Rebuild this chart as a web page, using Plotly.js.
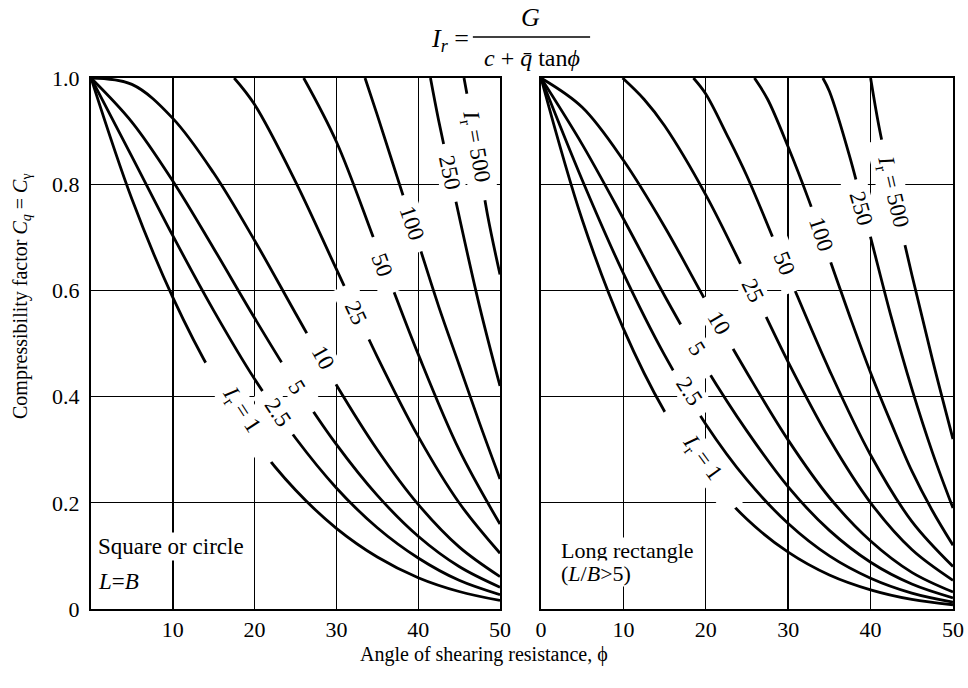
<!DOCTYPE html>
<html>
<head>
<meta charset="utf-8">
<script src="https://cdn.plot.ly/plotly-3.0.1.min.js"></script>
<style>html,body{margin:0;padding:0;background:#fff;}#chart{width:968px;height:688px;}</style>
</head>
<body>
<div id="chart"></div>
<script>
// ---- data ----
const irNames = ['1', '2.5', '5', '10', '25', '50', '100', '250', '500'];
const phiFull = [0, 5, 10, 15, 20, 25, 30, 35, 40, 45, 50];

// Square or circle (L = B)
const sq1 = [1, .772, .587, .437, .317, .224, .152, .098, .059, .033, .016];
const sq2_5 = [1, .852, .703, .562, .433, .322, .228, .153, .096, .054, .027];
const sq5 = [1, .917, .806, .679, .548, .423, .310, .214, .137, .080, .041];
const sq10 = [1, .988, .924, .821, .694, .557, .422, .300, .197, .117, .061];
const sq25Phi = [17.5, 20, 25, 30, 35, 40, 45, 50];
const sq25 = [1, .95, .805, .64, .475, .325, .20, .105];
const sq50Phi = [26, 30, 35, 40, 45, 50];
const sq50 = [1, .88, .68, .48, .30, .16];
const sq100Phi = [33.5, 35, 37.5, 40, 42.5, 45, 47.5, 50];
const sq100 = [1, .93, .81, .69, .57, .46, .35, .245];
const sq250Phi = [41.5, 42.5, 45, 47.5, 50];
const sq250 = [1, .92, .74, .57, .42];
const sq500Phi = [45.6, 47, 48.5, 50];
const sq500 = [1, .88, .74, .63];

// Long rectangle (L/B > 5)
const st1 = [1, .733, .528, .372, .255, .169, .107, .064, .036, .018, .008];
const st2_5 = [1, .808, .632, .478, .348, .243, .161, .100, .058, .030, .013];
const st5 = [1, .875, .735, .59, .455, .335, .23, .148, .088, .047, .021];
const st10 = [1, .945, .845, .72, .58, .445, .318, .21, .128, .069, .032];
const st25Phi = [9.9, 12.5, 15, 20, 25, 30, 35, 40, 45, 50];
const st25 = [1, .96, .91, .78, .625, .465, .32, .20, .112, .054];
const st50Phi = [18.5, 20, 22.5, 25, 30, 35, 40, 45, 50];
const st50 = [1, .97, .895, .815, .63, .45, .29, .165, .08];
const st100Phi = [25.9, 27.5, 30, 32.5, 35, 37.5, 40, 42.5, 45, 47.5, 50];
const st100 = [1, .96, .87, .77, .66, .55, .445, .35, .26, .185, .12];
const st250Phi = [34.2, 35, 37.5, 40, 42.5, 45, 47.5, 50];
const st250 = [1, .975, .85, .70, .55, .415, .295, .19];
const st500Phi = [40, 41, 42.5, 45, 47.5, 50];
const st500 = [1, .91, .80, .63, .47, .32];

// curve label positions (phi, C) and rotation
const sqLabelPhi = [18.3, 22.85, 25.2, 28.35, 32.35, 35.6, 39.25, 43.85, 47.0];
const sqLabelC = [.374, .370, .417, .473, .558, .647, .726, .822, .870];
const sqLabelAng = [57, 56, 58, 61, 65, 70, 71, 78, 80];
const stLabelPhi = [19.6, 18.0, 18.9, 21.65, 25.7, 29.5, 34.0, 38.9, 42.6];
const stLabelC = [.283, .409, .490, .538, .600, .650, .705, .755, .785];
const stLabelAng = [54, 57, 58, 60, 64, 68, 72, 74, 77];

const xTicksLeft = [10, 20, 30, 40, 50];
const xTicksRight = [0, 10, 20, 30, 40, 50];
const yTicks = [0, 0.2, 0.4, 0.6, 0.8, 1.0];
const yTickText = ['0', '0.2', '0.4', '0.6', '0.8', '1.0'];

// ---- build ----
const FONT = "'Liberation Serif', 'Times New Roman', serif";
const sqX = [phiFull, phiFull, phiFull, phiFull, sq25Phi, sq50Phi, sq100Phi, sq250Phi, sq500Phi];
const sqY = [sq1, sq2_5, sq5, sq10, sq25, sq50, sq100, sq250, sq500];
const stX = [phiFull, phiFull, phiFull, phiFull, st25Phi, st50Phi, st100Phi, st250Phi, st500Phi];
const stY = [st1, st2_5, st5, st10, st25, st50, st100, st250, st500];

const traces = [];
function addCurves(xs, ys, xa, ya) {
  for (let i = 0; i < xs.length; i++) {
    traces.push({
      x: xs[i], y: ys[i], xaxis: xa, yaxis: ya, type: 'scatter', mode: 'lines',
      line: {color: '#000', width: 2.8, shape: 'spline', smoothing: 1},
      hoverinfo: 'skip', showlegend: false, name: 'Ir=' + irNames[i]
    });
  }
}
addCurves(sqX, sqY, 'x', 'y');
addCurves(stX, stY, 'x2', 'y2');

const NB = '\u00a0';
function pad(n) { return NB.repeat(n); }
function labelText(i) {
  const name = irNames[i];
  if (i === 0 || i === 8) {
    const p = i === 0 ? 6 : 3;
    return pad(p) + '<i>I</i><sub>r</sub> = ' + name + pad(p);
  }
  const p = name.length === 1 ? 4 : (name.length === 2 ? 3 : 2);
  return pad(p) + name + pad(p);
}

const annotations = [];
function addLabels(phis, cs, angs, xr, yr) {
  for (let i = 0; i < phis.length; i++) {
    annotations.push({
      x: phis[i], y: cs[i], xref: xr, yref: yr, text: labelText(i),
      xanchor: 'center', yanchor: 'middle',
      textangle: angs[i], showarrow: false, bgcolor: '#fff', borderpad: 0,
      font: {family: FONT, size: 23, color: '#000'}
    });
  }
}
addLabels(sqLabelPhi, sqLabelC, sqLabelAng, 'x', 'y');
addLabels(stLabelPhi, stLabelC, stLabelAng, 'x2', 'y2');

function note(opts) {
  return Object.assign({showarrow: false, xanchor: 'center', yanchor: 'middle'}, opts);
}
// panel captions
annotations.push(note({x: 0.6, y: 0.117, xref: 'x', yref: 'y', xanchor: 'left',
  text: 'Square or circle', bgcolor: '#fff', borderpad: 1,
  font: {family: FONT, size: 23, color: '#000'}}));
annotations.push(note({x: 0.6, y: 0.051, xref: 'x', yref: 'y', xanchor: 'left',
  text: '<i>L</i>=<i>B</i>', bgcolor: '#fff', borderpad: 1,
  font: {family: FONT, size: 23, color: '#000'}}));
annotations.push(note({x: 2.3, y: 0.110, xref: 'x2', yref: 'y2', xanchor: 'left',
  text: 'Long rectangle', bgcolor: '#fff', borderpad: 0,
  font: {family: FONT, size: 22, color: '#000'}}));
annotations.push(note({x: 2.3, y: 0.067, xref: 'x2', yref: 'y2', xanchor: 'left',
  text: '(<i>L</i>/<i>B</i>>5)', bgcolor: '#fff', borderpad: 0,
  font: {family: FONT, size: 22, color: '#000'}}));

// title formula
annotations.push(note({x: 0.4165, y: 1.0716, xref: 'paper', yref: 'paper',
  text: '<i>I</i><sub><i>r</i></sub> =', font: {family: FONT, size: 26, color: '#000'}}));
annotations.push(note({x: 0.5104, y: 1.113, xref: 'paper', yref: 'paper',
  text: '<i>G</i>', font: {family: FONT, size: 26, color: '#000'}}));
annotations.push(note({x: 0.5116, y: 1.0377, xref: 'paper', yref: 'paper',
  text: '<i>c</i> + <i>q\u0304</i> tan<i>\u03d5</i>', font: {family: FONT, size: 24, color: '#000'}}));

// axis titles
annotations.push(note({x: -0.0815, y: 0.589, xref: 'paper', yref: 'paper', textangle: -90,
  text: 'Compressibility factor <i>C</i><sub><i>q</i></sub> = <i>C</i><sub>\u03b3</sub>',
  font: {family: FONT, size: 20, color: '#000'}}));
annotations.push(note({x: 0.456, y: -0.0866, xref: 'paper', yref: 'paper',
  text: 'Angle of shearing resistance, \u03d5', font: {family: FONT, size: 20, color: '#000'}}));

const axBase = {
  range: [0, 50], showgrid: true, gridcolor: '#000', gridwidth: 1.4, zeroline: false,
  showline: true, linecolor: '#000', linewidth: 2, mirror: true, ticks: '',
  tickfont: {family: FONT, size: 22, color: '#000'}, ticklabelstandoff: 0, fixedrange: true
};
const yBase = {
  range: [0, 1], showgrid: true, gridcolor: '#000', gridwidth: 1.4, zeroline: false,
  showline: true, linecolor: '#000', linewidth: 2, mirror: true, ticks: '',
  tickmode: 'array', tickvals: yTicks, ticktext: yTickText,
  tickfont: {family: FONT, size: 22, color: '#000'}, ticklabelstandoff: 5, fixedrange: true
};

const layout = {
  width: 968, height: 688,
  font: {family: FONT, color: '#000'},
  margin: {l: 91, r: 15, t: 78, b: 79, pad: 0},
  paper_bgcolor: '#fff', plot_bgcolor: '#fff',
  showlegend: false,
  xaxis: Object.assign({}, axBase, {domain: [0, 0.47448], anchor: 'y', tickmode: 'array', tickvals: xTicksLeft}),
  yaxis: Object.assign({}, yBase, {domain: [0, 1], anchor: 'x'}),
  xaxis2: Object.assign({}, axBase, {domain: [0.52204, 1], anchor: 'y2', tickmode: 'array', tickvals: xTicksRight}),
  yaxis2: Object.assign({}, yBase, {domain: [0, 1], anchor: 'x2', showticklabels: false}),
  annotations: annotations,
  shapes: [{type: 'line', xref: 'paper', yref: 'paper', x0: 0.443, x1: 0.579, y0: 1.0772, y1: 1.0772,
    line: {color: '#000', width: 1.5}}]
};

Plotly.newPlot('chart', traces, layout, {displayModeBar: false, staticPlot: true});
</script>
</body>
</html>
